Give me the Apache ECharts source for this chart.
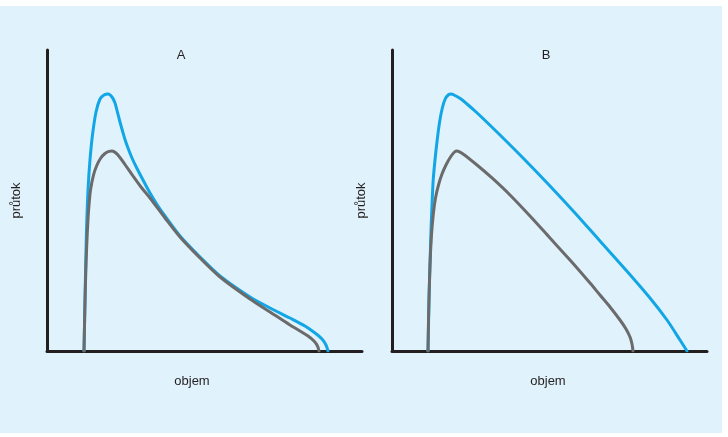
<!DOCTYPE html>
<html>
<head>
<meta charset="utf-8">
<script src="https://cdn.jsdelivr.net/npm/echarts@6/dist/echarts.min.js"></script>
<style>
  html, body { margin: 0; padding: 0; background: #ffffff; }
  #bg { position: absolute; left: 0; top: 6px; width: 722px; height: 427px; background: #e0f2fb; }
  #chart { position: absolute; left: 0; top: 0; width: 728px; height: 437px; }
</style>
</head>
<body>
<div id="bg"></div>
<div id="chart"></div>
<script>
// Panel titles and axis names
const panelTitles = ['A', 'B'];
const xName = 'objem';
const yName = 'průtok';

// Panel A: [volume, flow] pairs (arbitrary units 0-10)
const aBlue = [
  [1.175, 0], [1.200, 1.362], [1.225, 2.691], [1.254, 4.020], [1.302, 5.349],
  [1.365, 6.346], [1.444, 7.176], [1.556, 7.940], [1.683, 8.372], [1.810, 8.505],
  [1.937, 8.538], [2.063, 8.439], [2.159, 8.239], [2.238, 7.924], [2.317, 7.608],
  [2.397, 7.309], [2.476, 7.027], [2.571, 6.744], [2.698, 6.412], [2.857, 6.063],
  [3.048, 5.681], [3.270, 5.249], [3.524, 4.817], [3.746, 4.485], [4.222, 3.821],
  [4.857, 3.123], [5.492, 2.492], [6.444, 1.794], [7.079, 1.429], [7.714, 1.096],
  [8.190, 0.831], [8.508, 0.598], [8.730, 0.399], [8.857, 0.199], [8.921, 0]
];
const aGray = [
  [1.175, 0], [1.194, 1.030], [1.216, 2.027], [1.244, 3.023], [1.276, 3.854],
  [1.321, 4.684], [1.381, 5.349], [1.476, 5.847], [1.587, 6.179], [1.708, 6.412],
  [1.841, 6.561], [1.968, 6.635], [2.063, 6.645], [2.190, 6.578], [2.317, 6.429],
  [2.476, 6.196], [2.730, 5.814], [2.984, 5.449], [3.270, 5.083], [3.746, 4.419],
  [4.222, 3.787], [4.857, 3.090], [5.492, 2.458], [6.444, 1.728], [7.079, 1.296],
  [7.714, 0.864], [8.032, 0.664], [8.286, 0.498], [8.476, 0.332], [8.587, 0.166],
  [8.635, 0]
];

// Panel B
const bBlue = [
  [1.143, 0], [1.162, 1.030], [1.184, 2.027], [1.210, 3.023], [1.238, 4.020],
  [1.270, 4.850], [1.308, 5.681], [1.365, 6.346], [1.435, 7.010], [1.511, 7.608],
  [1.597, 8.073], [1.689, 8.372], [1.784, 8.505], [1.873, 8.538], [2.000, 8.488],
  [2.190, 8.372], [2.381, 8.206], [2.635, 7.973], [2.889, 7.724], [3.429, 7.176],
  [4.222, 6.346], [5.016, 5.482], [5.810, 4.585], [6.603, 3.654], [7.397, 2.724],
  [8.190, 1.761], [8.730, 1.030], [9.143, 0.365], [9.365, 0]
];
const bGray = [
  [1.143, 0], [1.159, 1.030], [1.181, 2.027], [1.213, 3.023], [1.254, 3.854],
  [1.308, 4.518], [1.381, 5.083], [1.476, 5.515], [1.587, 5.880], [1.714, 6.179],
  [1.857, 6.445], [1.984, 6.611], [2.063, 6.645], [2.254, 6.545], [2.698, 6.179],
  [3.175, 5.748], [3.746, 5.183], [4.381, 4.485], [5.016, 3.754], [5.651, 3.023],
  [6.286, 2.259], [6.603, 1.860], [6.921, 1.462], [7.238, 1.030], [7.429, 0.731],
  [7.556, 0.465], [7.619, 0.233], [7.651, 0]
];

const BLUE = '#12a6e6';
const GRAY = '#6b6b6b';
const AXIS = '#231f20';
const FONT = '"Liberation Sans", Arial, sans-serif';

const chart = echarts.init(document.getElementById('chart'), null, { renderer: 'canvas' });

function xAx(i) {
  return {
    type: 'value', gridIndex: i, min: 0, max: 10,
    axisLine: { show: true, onZero: false, lineStyle: { color: AXIS, width: 3 } },
    axisTick: { show: false }, axisLabel: { show: false }, splitLine: { show: false }
  };
}
function yAx(i) {
  return {
    type: 'value', gridIndex: i, min: 0, max: 10,
    name: yName, nameLocation: 'middle', nameGap: 24,
    nameTextStyle: { color: AXIS, fontSize: 13, fontFamily: FONT },
    axisLine: { show: true, onZero: false, lineStyle: { color: AXIS, width: 3 } },
    axisTick: { show: false }, axisLabel: { show: false }, splitLine: { show: false }
  };
}
function line(data, color, i) {
  return {
    type: 'line', data: data, xAxisIndex: i, yAxisIndex: i,
    showSymbol: false, smooth: 0.3, silent: true,
    lineStyle: { color: color, width: 3, cap: 'round', join: 'round' }
  };
}
function txt(s, x, y) {
  return {
    type: 'text', x: x, y: y, silent: true,
    style: { text: s, fill: AXIS, font: '13px ' + FONT, align: 'center', verticalAlign: 'middle' }
  };
}

chart.setOption({
  animation: false,
  backgroundColor: 'transparent',
  grid: [
    { left: 47, top: 50, width: 315, height: 301 },
    { left: 392, top: 50, width: 315, height: 301 }
  ],
  xAxis: [xAx(0), xAx(1)],
  yAxis: [yAx(0), yAx(1)],
  series: [
    line(aBlue, BLUE, 0), line(aGray, GRAY, 0),
    line(bBlue, BLUE, 1), line(bGray, GRAY, 1)
  ],
  graphic: [
    txt(panelTitles[0], 181, 55), txt(panelTitles[1], 546, 55),
    txt(xName, 192, 381), txt(xName, 548, 381)
  ]
});
</script>
</body>
</html>
